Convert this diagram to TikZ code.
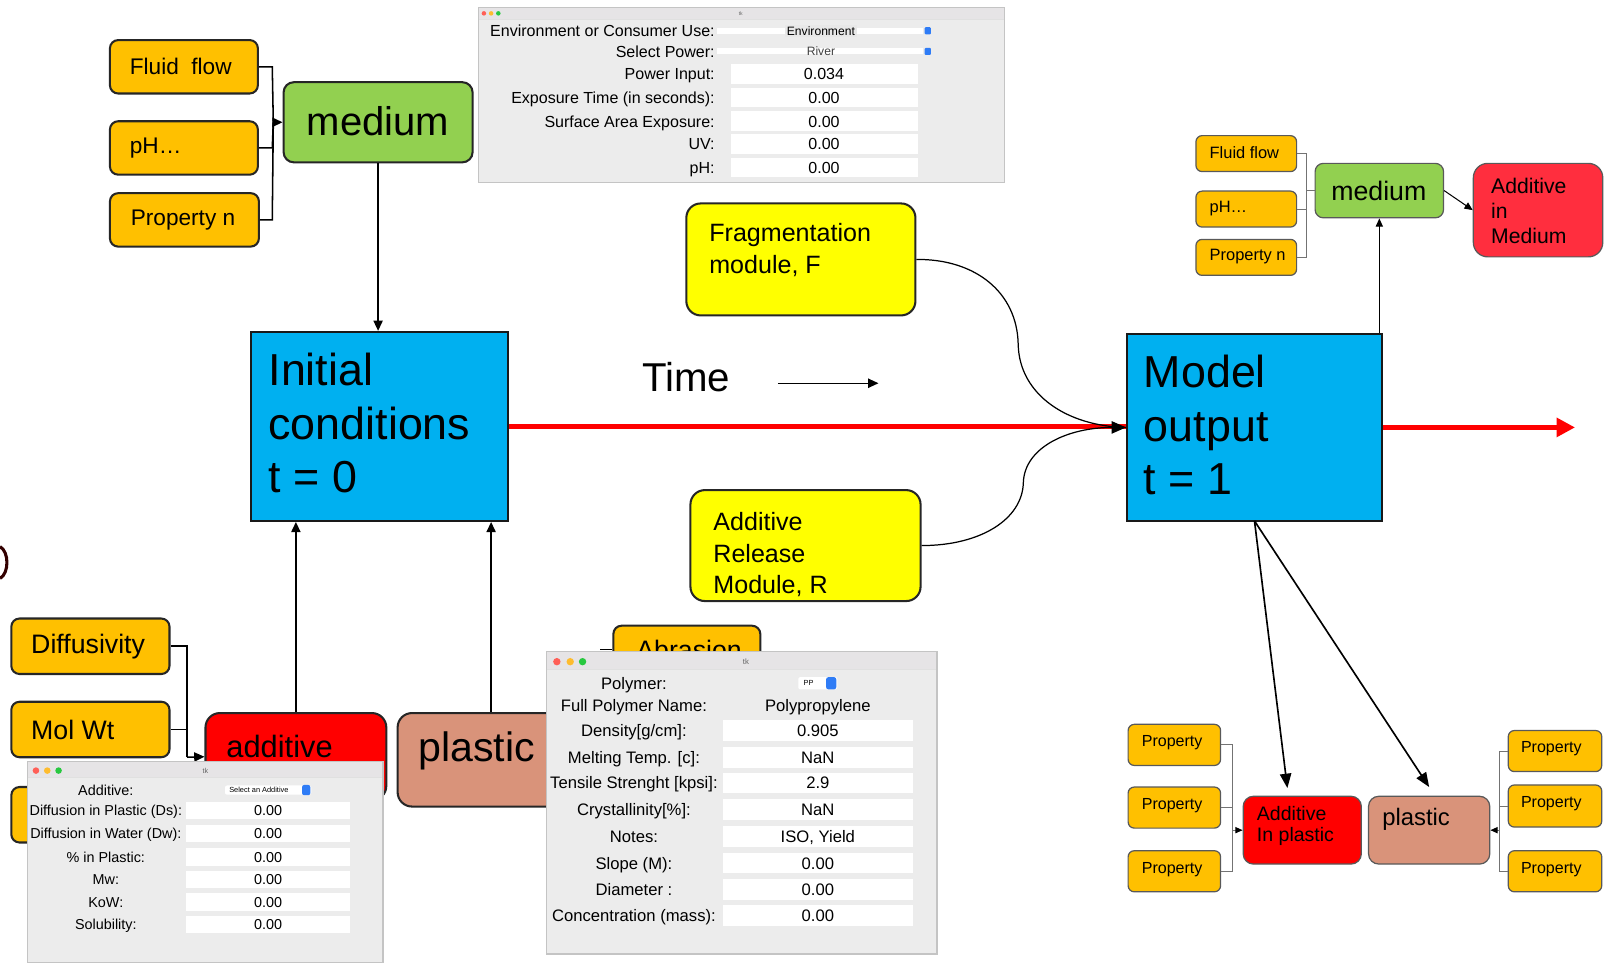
\documentclass[tikz,border=0pt]{standalone}
\usepackage{fontspec}
\setmainfont{Liberation Sans}
\usetikzlibrary{arrows.meta,fit}

\definecolor{orangeC}{HTML}{FFC000}
\definecolor{greenC}{HTML}{92D050}
\definecolor{cyanC}{HTML}{00B0F0}
\definecolor{yellowC}{HTML}{FFFF00}
\definecolor{salmonC}{HTML}{D9937A}
\definecolor{redB}{HTML}{FF0000}
\definecolor{redM}{HTML}{FF2E3E}
\definecolor{panelC}{HTML}{ECECEC}
\definecolor{titleC}{HTML}{E6E4E6}
\definecolor{shadowC}{HTML}{C4C4C4}
\definecolor{tlRed}{HTML}{FF5F57}
\definecolor{tlYellow}{HTML}{FEBC2E}
\definecolor{tlGreen}{HTML}{28C840}
\definecolor{btnBlue}{HTML}{2F7CF6}

\newcommand\fsz[2]{\fontsize{#1}{#2}\selectfont}

\begin{document}
\begin{tikzpicture}[x=0.5pt,y=-0.5pt,
  bx/.style={draw=black!85, line width=1pt, inner sep=0pt, rounded corners=4pt},
  ob/.style={bx, fill=orangeC},
  sbx/.style={draw=black!65, line width=0.6pt, inner sep=0pt, rounded corners=3pt},
  sob/.style={sbx, fill=orangeC},
  sq/.style={draw=black!90, line width=1pt, inner sep=0pt, fill=cyanC},
  tx/.style={inner sep=0pt, anchor=west, align=left},
  conn/.style={draw=black, line width=0.75pt},
  arr/.style={conn, -{Triangle[length=5pt,width=4.5pt]}},
  gconn/.style={draw=black!55, line width=0.5pt},
  garr/.style={draw=black!55, line width=0.5pt, -{Triangle[length=3.5pt,width=3pt,fill=black,color=black]}},
  timeline/.style={draw=redB, line width=2.2pt},
  pf/.style={inner sep=0pt, font=\fsz{#1}{#1}, text height=\dimexpr #1pt*72/100\relax, text depth=0pt},
  field/.style={fill=white},
]
\useasboundingbox (0,0) rectangle (1568,939);

% ---------- stray glyph at the left edge ----------
\draw[line width=1.5pt, draw=black!80!red] (0,532) .. controls (9,537) and (9,558) .. (0,563);

% ---------- upper left: medium and its properties ----------
\node[ob, fit={(107,39) (251,91)}] (ff) {};
\node[tx, font=\fsz{11}{13}] (ff-t) at (126,65) {Fluid\ \ flow};
\node[ob, fit={(107,118) (251,170)}] (ph) {};
\node[tx, font=\fsz{11}{13}] (ph-t) at (126,144) {pH…};
\node[ob, fit={(107,188) (252,240)}] (pn) {};
\node[tx, font=\fsz{11}{13}] (pn-t) at (127,214) {Property n};
\node[bx, fill=greenC, rounded corners=5pt, fit={(276,80) (460,158)}] (med) {};
\node[inner sep=0pt, font=\fsz{19.5}{22}] (med-t) at (368,118) {medium};

\coordinate (j1) at (266,119);
\draw[conn] (ff.east) -- (265,65) -- (j1);
\draw[conn] (ph.east) -- (265,144) -- (j1);
\draw[conn] (pn.east) -- (265,214) -- (j1);
\draw[arr] (j1) -- (med.west);

% ---------- initial conditions ----------
\node[sq, fit={(244,323) (494,507)}] (ic) {};
\node[tx, font=\fsz{21.8}{26}] (ic-t) at (261,412) {Initial\\conditions\\t = 0};
\draw[arr] (med.south) -- (med.south |- ic.north);

% ---------- model output ----------
\node[sq, fit={(1097,325) (1345,507)}] (mo) {};
\node[tx, font=\fsz{21.8}{26}] (mo-t) at (1113,414) {Model\\output\\t = 1};

% ---------- time axis ----------
\node[inner sep=0pt, font=\fsz{19.6}{22}] (time) at (668,367) {Time};
\coordinate (ta) at (757,373);
\coordinate (tb) at (855,373);
\draw[line width=0.6pt, -{Triangle[length=5pt,width=4.5pt]}] (ta) -- (tb);

\coordinate (rend) at (1533,416);
\draw[timeline] (ic.east) -- (ic.east -| mo.west);
\draw[timeline, -{Triangle[length=9pt,width=9pt]}] (mo.east) -- (rend);

% ---------- modules ----------
\node[bx, fill=yellowC, rounded corners=7pt, fit={(668,198) (891,307)}] (frag) {};
\node[tx, anchor=north west, font=\fsz{12.2}{15.5}] (frag-t) at (690,217) {Fragmentation\\module, F};
\node[bx, fill=yellowC, rounded corners=7pt, fit={(672,477) (896,585)}] (rel) {};
\node[tx, anchor=north west, font=\fsz{12.2}{15.5}] (rel-t) at (694,498) {Additive\\Release\\Module, R};

\draw[conn, line width=0.6pt] (frag.east) .. controls (950,252) and (990,285) .. (991,335)
  .. controls (992,385) and (1040,415) .. (mo.west);
\draw[conn, line width=0.6pt, -{Triangle[length=7pt,width=6pt]}] (rel.east) .. controls (955,531) and (995,505) .. (996,470)
  .. controls (997,435) and (1040,416) .. (mo.west);

% ---------- lower left: additive and plastic ----------
\node[ob, fit={(11,602) (165,656)}] (dif) {};
\node[tx, font=\fsz{13}{15}] (dif-t) at (30,629) {Diffusivity};
\node[ob, fit={(11,683) (165,737)}] (mol) {};
\node[tx, font=\fsz{13}{15}] (mol-t) at (30,710) {Mol Wt};
\node[ob, fit={(11,766) (165,820)}] (third) {};

\node[bx, fill=redB, rounded corners=7pt, fit={(200,694) (376,779)}] (add) {};
\node[tx, font=\fsz{15}{17}] (add-t) at (220,727) {additive};
\coordinate (j2) at (182,737);
\draw[conn] (dif.east) -- (182,629) -- (j2);
\draw[conn] (mol.east) -- (182,710) -- (j2);
\draw[arr] (j2) -- (add.west);

\node[bx, fill=salmonC, rounded corners=7pt, fit={(387,694) (569,785)}] (pla) {};
\node[tx, font=\fsz{20}{22}] (pla-t) at (407,731) {plastic};

\draw[arr] (add.north) -- (add.north |- ic.south);
\draw[arr] (pla.north) -- (pla.north |- ic.south);

\node[ob, fit={(597,609) (740,662)}] (abr) {};
\begin{scope}
  \clip (590,600) rectangle (750,634);
  \node[tx, anchor=base west, font=\fsz{13}{15}] (abr-t) at (619,642) {Abrasion};
\end{scope}
\coordinate (ab0) at (584,632);
\draw[conn] (abr.west |- ab0) -- (ab0);

% ---------- upper right ----------
\node[sob, fit={(1164,132) (1262,167)}] (rff) {};
\node[tx, font=\fsz{8}{9}] (rff-t) at (1177,149) {Fluid flow};
\node[sob, fit={(1164,186) (1262,221)}] (rph) {};
\node[tx, font=\fsz{8}{9}] (rph-t) at (1177,203) {pH…};
\node[sob, fit={(1164,233) (1262,268)}] (rpn) {};
\node[tx, font=\fsz{8}{9}] (rpn-t) at (1177,250) {Property n};
\node[sbx, fill=greenC, rounded corners=4pt, fit={(1280,159) (1405,212)}] (rmed) {};
\node[inner sep=0pt, font=\fsz{13}{15}] (rmed-t) at (1342,186) {medium};
\node[sbx, fill=redM, rounded corners=7pt, fit={(1434,159) (1560,250)}] (aim) {};
\node[tx, font=\fsz{10.3}{12.25}] (aim-t) at (1451,205) {Additive\\in\\Medium};

\coordinate (j3) at (1272,185.5);
\draw[gconn] (rff.east) -- (1272,149.5) -- (1272,250.5) -- (rpn.east);
\draw[gconn] (rph.east) -- (1272,203.5);
\draw[gconn] (j3) -- (rmed.west);
\draw[conn, line width=0.5pt, -{Triangle[length=4pt,width=3.5pt]}] (rmed.east) -- (aim.west);
\draw[conn, line width=0.5pt, -{Triangle[length=4pt,width=3.5pt]}] (mo.north -| rmed.south) -- (rmed.south);

% ---------- lower right ----------
\node[sob, fit={(1098,705) (1188,745)}] (lp1) {};
\node[tx, font=\fsz{7.8}{9}] (lp1-t) at (1111,723) {Property};
\node[sob, fit={(1098,766) (1188,806)}] (lp2) {};
\node[tx, font=\fsz{7.8}{9}] (lp2-t) at (1111,784) {Property};
\node[sob, fit={(1098,828) (1188,868)}] (lp3) {};
\node[tx, font=\fsz{7.8}{9}] (lp3-t) at (1111,846) {Property};

\node[sbx, fill=redB, rounded corners=5pt, fit={(1210,775) (1325,841)}] (aip) {};
\node[tx, font=\fsz{9.5}{10.5}] (aip-t) at (1223,804) {Additive\\In plastic};
\node[sbx, fill=salmonC, rounded corners=5pt, fit={(1332,775) (1450,841)}] (pls) {};
\node[tx, font=\fsz{11.6}{13}] (pls-t) at (1345,797) {plastic};

\node[sob, fit={(1468,711) (1559,751)}] (rp1) {};
\node[tx, font=\fsz{7.8}{9}] (rp1-t) at (1480,729) {Property};
\node[sob, fit={(1468,764) (1559,805)}] (rp2) {};
\node[tx, font=\fsz{7.8}{9}] (rp2-t) at (1480,782) {Property};
\node[sob, fit={(1468,828) (1559,868)}] (rp3) {};
\node[tx, font=\fsz{7.8}{9}] (rp3-t) at (1480,846) {Property};

\coordinate (j4) at (1200,808);
\draw[gconn] (lp1.east) -- (1200,725) -- (1200,848) -- (lp3.east);
\draw[gconn] (lp2.east) -- (1200,786);
\draw[garr] (j4) -- (aip.west |- j4);
\coordinate (j5) at (1459,808);
\draw[gconn] (rp1.west) -- (1459,731) -- (1459,848) -- (rp3.west);
\draw[gconn] (rp2.west) -- (1459,784.5);
\draw[garr] (j5) -- (pls.east |- j5);

\coordinate (mb) at (1221,507);
\coordinate (e1) at (1253,767);
\coordinate (e2) at (1391,766);
\draw[conn, line width=0.8pt, -{Triangle[length=7pt,width=5.5pt]}] (mb) -- (e1);
\draw[conn, line width=0.8pt, -{Triangle[length=7pt,width=5.5pt]}] (mb) -- (e2);

% ---------- window: environment settings ----------
\fill[shadowC] (465,7) rectangle (978,178.5);
\fill[panelC] (466,8) rectangle (977,177);
\fill[titleC] (466,8) rectangle (977,19);
\draw[black!12, line width=0.3pt] (466,19) -- (977,19);
\fill[tlRed] (471,13) circle[radius=1.1pt];
\fill[tlYellow] (478,13) circle[radius=1.1pt];
\fill[tlGreen] (485,13) circle[radius=1.1pt];
\node[pf=2.5, text=black!60] (w1-tk) at (721,13) {tk};

\node[pf=7.8, anchor=east] (w1-l1) at (696,30) {Environment or Consumer Use:};
\fill[white] (698,27) rectangle (898,33);
\node[inner sep=0.8pt, fill=black!9, font=\fsz{5.9}{6}] (w1-v1) at (799,30) {Environment};
\fill[btnBlue, rounded corners=0.5pt] (900,26.5) rectangle (906,33.5);
\node[pf=7.8, anchor=east] (w1-l2) at (696,50) {Select Power:};
\fill[white] (698,47) rectangle (898,53);
\node[pf=5.9, text=black!75] (w1-v2) at (799,50) {River};
\fill[btnBlue, rounded corners=0.5pt] (900,46.5) rectangle (906,53.5);
\foreach \i/\y/\l/\v in {3/72/{Power Input:}/0.034, 4/95/{Exposure Time (in seconds):}/0.00,
    5/118/{Surface Area Exposure:}/0.00, 6/140/{UV:}/0.00, 7/163/{pH:}/0.00} {
  \fill[field] (711,\y-9.5) rectangle (893,\y+9.5);
  \node[pf=7.8, anchor=east] (w1-l\i) at (696,\y) {\l};
  \node[pf=7.8] (w1-v\i) at (802,\y) {\v};
}

% ---------- window: additive settings ----------
\fill[shadowC] (26,741) rectangle (373.5,937.5);
\fill[panelC] (27,742) rectangle (372,936);
\fill[titleC] (27,742) rectangle (372,757);
\draw[black!12, line width=0.3pt] (27,757) -- (372,757);
\fill[tlRed] (35,750) circle[radius=1.6pt];
\fill[tlYellow] (46,750) circle[radius=1.6pt];
\fill[tlGreen] (57,750) circle[radius=1.6pt];
\node[pf=3.5, text=black!60] (w2-tk) at (200,750) {tk};
\node[pf=7] (w2-l1) at (103,769) {Additive:};
\fill[white, rounded corners=1pt] (219,764.5) rectangle (303,773.5);
\node[pf=3.6] (w2-v1) at (252,769) {Select an Additive};
\fill[btnBlue, rounded corners=1pt] (294,764) rectangle (302,774);
\foreach \i/\y/\l in {2/789/{Diffusion in Plastic (Ds):}, 3/811/{Diffusion in Water (Dw):},
    4/834/{\% in Plastic:}, 5/856/{Mw:}, 6/878/{KoW:}, 7/900/{Solubility:}} {
  \fill[field] (181,\y-8.5) rectangle (341,\y+8.5);
  \node[pf=7] (w2-l\i) at (103,\y) {\l};
  \node[pf=7] (w2-v\i) at (261,\y) {0.00};
}

% ---------- window: polymer settings ----------
\fill[shadowC] (531,633.5) rectangle (912.5,929.5);
\fill[panelC] (532,634.5) rectangle (911,928);
\fill[titleC] (532,634.5) rectangle (911,651);
\draw[black!12, line width=0.3pt] (532,651) -- (911,651);
\fill[tlRed] (542,644) circle[radius=1.8pt];
\fill[tlYellow] (555,644) circle[radius=1.8pt];
\fill[tlGreen] (567,644) circle[radius=1.8pt];
\node[pf=3.8, text=black!60] (w3-tk) at (726,644) {tk};
\node[pf=8.1] (w3-l1) at (617,665) {Polymer:};
\fill[white, rounded corners=1pt] (777,659) rectangle (815,671);
\node[pf=3.6] (w3-v1) at (787,665) {PP};
\fill[btnBlue, rounded corners=1.2pt] (804,659) rectangle (814,671);
\node[pf=8.1] (w3-l2) at (617,687) {Full Polymer Name:};
\node[pf=8.1] (w3-v2) at (796,687) {Polypropylene};
\foreach \i/\y/\l/\v in {3/711/{Density[g/cm]:}/0.905, 4/737/{Melting Temp. [c]:}/NaN,
    5/762/{Tensile Strenght [kpsi]:}/2.9, 6/788/{Crystallinity[\%]:}/NaN, 7/814/{Notes:}/{ISO, Yield},
    8/840/{Slope (M):}/0.00, 9/866/{Diameter :}/0.00, 10/891/{Concentration (mass):}/0.00} {
  \fill[field] (704,\y-10) rectangle (889,\y+10);
  \node[pf=8.1] (w3-l\i) at (617,\y) {\l};
  \node[pf=8.1] (w3-v\i) at (796,\y) {\v};
}
\end{tikzpicture}
\end{document}
